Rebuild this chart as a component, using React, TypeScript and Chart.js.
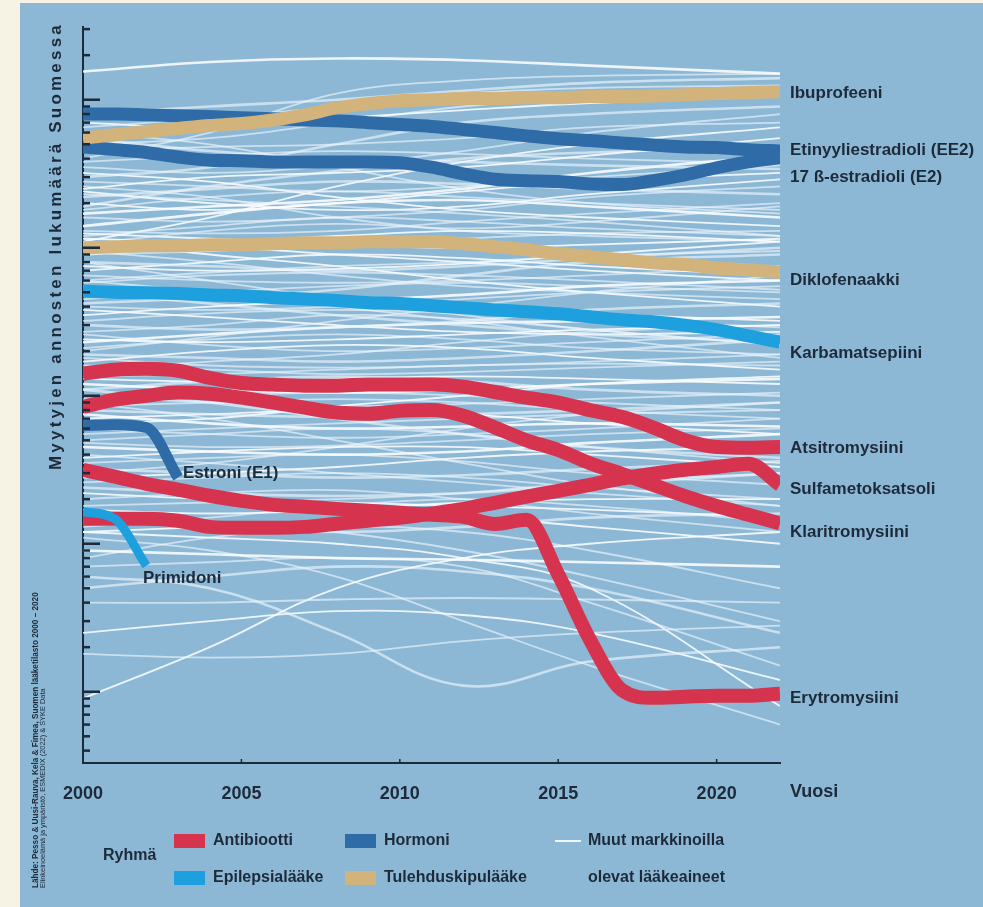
import React, { useEffect, useRef } from 'react';
import { Chart, registerables } from 'chart.js';

Chart.register(...registerables);

const W = 983;
const H = 907;
const CREAM = '#f6f2e4';
const PANEL = '#8db8d5';
const DARK = '#1c2a39';
const RED = '#d6344e';
const HORMONE = '#2f6ca7';
const EPI = '#1da0dd';
const TAN = '#d3b37c';
const SANS = '"Liberation Sans", Arial, sans-serif';

const YEARS = [2000, 2001, 2002, 2003, 2004, 2005, 2006, 2007, 2008, 2009, 2010, 2011, 2012, 2013, 2014, 2015, 2016, 2017, 2018, 2019, 2020, 2021, 2022];
const X_TICKS = [2000, 2005, 2010, 2015, 2020];
const Y_MIN = 330;
const Y_MAX = 3.1e7;

// Sold doses per year (log scale)
const IBUPROFEENI = [5.5e6, 5.8e6, 6.1e6, 6.4e6, 6.7e6, 6.9e6, 7.3e6, 7.9e6, 8.8e6, 9.4e6, 9.85e6, 1.0e7, 1.02e7, 1.02e7, 1.03e7, 1.03e7, 1.05e7, 1.05e7, 1.06e7, 1.08e7, 1.1e7, 1.12e7, 1.13e7];
const ETINYYLIESTRADIOLI = [8.0e6, 8.0e6, 7.9e6, 7.8e6, 7.7e6, 7.55e6, 7.45e6, 7.3e6, 7.2e6, 7.0e6, 6.8e6, 6.6e6, 6.3e6, 6.0e6, 5.7e6, 5.45e6, 5.3e6, 5.1e6, 4.95e6, 4.8e6, 4.75e6, 4.6e6, 4.5e6];
const ESTRADIOLI = [4.8e6, 4.6e6, 4.4e6, 4.1e6, 3.9e6, 3.87e6, 3.8e6, 3.8e6, 3.8e6, 3.8e6, 3.75e6, 3.5e6, 3.16e6, 2.9e6, 2.84e6, 2.8e6, 2.7e6, 2.67e6, 2.84e6, 3.1e6, 3.47e6, 3.8e6, 4.06e6];
const DIKLOFENAAKKI = [1.0e6, 1.016e6, 1.03e6, 1.03e6, 1.048e6, 1.048e6, 1.064e6, 1.081e6, 1.081e6, 1.098e6, 1.098e6, 1.098e6, 1.064e6, 1.016e6, 9.7e5, 9.1e5, 8.7e5, 8.3e5, 7.9e5, 7.7e5, 7.3e5, 7.1e5, 6.8e5];
const KARBAMATSEPIINI = [5.1e5, 5.0e5, 4.97e5, 4.9e5, 4.8e5, 4.74e5, 4.6e5, 4.5e5, 4.4e5, 4.25e5, 4.2e5, 4.06e5, 3.93e5, 3.8e5, 3.7e5, 3.58e5, 3.42e5, 3.26e5, 3.16e5, 3.0e5, 2.8e5, 2.54e5, 2.3e5];
const ATSITROMYSIINI = [1.41e5, 1.5e5, 1.52e5, 1.475e5, 1.32e5, 1.22e5, 1.19e5, 1.17e5, 1.17e5, 1.19e5, 1.19e5, 1.19e5, 1.15e5, 1.06e5, 9.7e4, 9.0e4, 8.0e4, 7.2e4, 6.1e4, 5.0e4, 4.5e4, 4.45e4, 4.5e4];
const KLARITROMYSIINI = [8.4e4, 9.4e4, 1.0e5, 1.05e5, 1.03e5, 9.7e4, 9.0e4, 8.3e4, 7.7e4, 7.56e4, 7.9e4, 8.0e4, 7.33e4, 6.1e4, 5.0e4, 4.3e4, 3.5e4, 2.97e4, 2.5e4, 2.1e4, 1.8e4, 1.57e4, 1.37e4];
const SULFAMETOKSATSOLI = [1.475e4, 1.475e4, 1.475e4, 1.43e4, 1.3e4, 1.28e4, 1.28e4, 1.3e4, 1.365e4, 1.43e4, 1.5e4, 1.6e4, 1.72e4, 1.89e4, 2.08e4, 2.28e4, 2.5e4, 2.75e4, 2.97e4, 3.16e4, 3.3e4, 3.47e4, 2.5e4];
const ERYTROMYSIINI = [3.16e4, 2.84e4, 2.54e4, 2.32e4, 2.11e4, 1.95e4, 1.83e4, 1.78e4, 1.72e4, 1.67e4, 1.62e4, 1.57e4, 1.52e4, 1.36e4, 1.45e4, 6.2e3, 2.25e3, 1.03e3, 9.1e2, 9.25e2, 9.4e2, 9.4e2, 9.7e2];
const ESTRONI_YEARS = [2000, 2001, 2002, 2003];
const ESTRONI = [6.27e4, 6.37e4, 6.1e4, 2.8e4];
const PRIMIDONI_YEARS = [2000, 2001, 2002];
const PRIMIDONI = [1.645e4, 1.475e4, 7.1e3];

// Other marketed substances
const WHITE_YEARS = [2000, 2004, 2008, 2012, 2016, 2022];
const WHITE_LINES: (number | null)[][] = [
  [1.55e7, 1.8e7, 1.9e7, 1.85e7, 1.7e7, 1.5e7],
  [4e6, 6e6, 1.1e7, 1.35e7, 1.45e7, 1.5e7],
  [6.5e6, 7.5e6, 9e6, 1.1e7, 1.2e7, 1.25e7],
  [7e6, 6.5e6, 7.5e6, 8.5e6, 9.5e6, 1.05e7],
  [3e6, 3.5e6, 5e6, 7e6, 8e6, 9e6],
  [3.5e6, 3.2e6, 3.6e6, 4.5e6, 6e6, 8e6],
  [2.5e6, 3e6, 3.2e6, 3.5e6, 4.2e6, 5.5e6],
  [2.8e6, 2.6e6, 2.4e6, 2.6e6, 3e6, 3.6e6],
  [2.2e6, 2.5e6, 2.8e6, 2.7e6, 2.5e6, 2.3e6],
  [2e6, 1.8e6, 2e6, 2.4e6, 2.8e6, 3.2e6],
  [1.8e6, 2.2e6, 2.4e6, 2.2e6, 2e6, 1.8e6],
  [1.6e6, 1.5e6, 1.6e6, 1.8e6, 2.2e6, 2.6e6],
  [1.4e6, 1.7e6, 2e6, 2.1e6, 1.9e6, 1.6e6],
  [1.3e6, 1.25e6, 1.3e6, 1.5e6, 1.7e6, 2e6],
  [1.2e6, 1.4e6, 1.6e6, 1.5e6, 1.35e6, 1.2e6],
  [3.2e6, 2.8e6, 2.2e6, 1.8e6, 1.6e6, 1.4e6],
  [5.5e6, 4.5e6, 4e6, 3.8e6, 3.6e6, 3.4e6],
  [2.3e6, 2.1e6, 1.9e6, 1.7e6, 1.5e6, 1.2e6],
  [1.15e6, 1.1e6, 1.2e6, 1.3e6, 1.25e6, 1.1e6],
  [4.5e6, 4.8e6, 5e6, 5.5e6, 6.5e6, 7e6],
  [1.9e6, 2.6e6, 3.3e6, 4e6, 4.4e6, 4.8e6],
  [1.1e6, 1.6e6, 2.6e6, 3.8e6, 5e6, 6.5e6],
  [6e6, 5e6, 3.5e6, 2.5e6, 2e6, 1.7e6],
  [2.6e6, 2.2e6, 1.6e6, 1.3e6, 1.2e6, 1.1e6],
  [1.7e6, 1.9e6, 2.1e6, 2.5e6, 3.2e6, 4.2e6],
  [3.8e6, 4.2e6, 4.5e6, 4.3e6, 4e6, 3.7e6],
  [1.05e6, 1.3e6, 1.45e6, 1.35e6, 1.5e6, 1.9e6],
  [2.4e6, 2e6, 1.8e6, 1.9e6, 2.3e6, 2.9e6],
  [8e6, 9e6, 1e7, 1.15e7, 1.3e7, 1.4e7],
  [5e6, 5.5e6, 7e6, 9e6, 1.05e7, 1.15e7],
  [1.25e6, 1.15e6, 1.05e6, 1e6, 1.05e6, 1.15e6],
  [9e5, 9.5e5, 1.05e6, 1.15e6, 1.25e6, 1.3e6],
  [8e5, 7.5e5, 7e5, 7.5e5, 8.5e5, 1e6],
  [7e5, 8e5, 9e5, 8.5e5, 7.5e5, 6.5e5],
  [6.5e5, 6e5, 5.8e5, 6e5, 6.5e5, 7.5e5],
  [6e5, 6.8e5, 7.5e5, 8e5, 8.8e5, 9.5e5],
  [5.5e5, 5e5, 4.5e5, 4.8e5, 5.5e5, 6e5],
  [4.5e5, 5e5, 5.5e5, 5.8e5, 5.5e5, 5e5],
  [4e5, 3.8e5, 4e5, 4.5e5, 5e5, 5.5e5],
  [3.5e5, 4e5, 4.3e5, 4e5, 3.6e5, 3.2e5],
  [3e5, 2.8e5, 2.9e5, 3.2e5, 3.8e5, 4.2e5],
  [2.7e5, 3e5, 3.5e5, 3.3e5, 2.8e5, 2.2e5],
  [2.4e5, 2.3e5, 2.4e5, 2.6e5, 2.8e5, 3e5],
  [2.1e5, 2.4e5, 2.6e5, 2.4e5, 2.1e5, 1.9e5],
  [1.9e5, 1.8e5, 1.7e5, 1.8e5, 2e5, 2.4e5],
  [1.7e5, 2e5, 2.2e5, 2.1e5, 1.8e5, 1.5e5],
  [1.6e5, 1.5e5, 1.4e5, 1.45e5, 1.55e5, 1.7e5],
  [1.35e5, 1.4e5, 1.5e5, 1.6e5, 1.65e5, 1.6e5],
  [1.2e5, 1.1e5, 1.05e5, 1.1e5, 1.2e5, 1.3e5],
  [8e5, 6e5, 4.5e5, 3.5e5, 2.8e5, 2.2e5],
  [2e5, 2.5e5, 3.2e5, 4e5, 5e5, 6.5e5],
  [1.1e6, 9e5, 7.5e5, 6e5, 5e5, 4e5],
  [5e5, 4.2e5, 3.5e5, 3e5, 2.6e5, 2.3e5],
  [9.5e5, 8e5, 6.5e5, 5.5e5, 5e5, 4.5e5],
  [7.5e5, 7e5, 7.2e5, 7.8e5, 9e5, 1.1e6],
  [5.8e5, 6.5e5, 6.8e5, 6.5e5, 6e5, 5.2e5],
  [4.2e5, 4.6e5, 5.2e5, 6.5e5, 8e5, 9e5],
  [3.8e5, 3.4e5, 3e5, 2.7e5, 2.6e5, 2.7e5],
  [3.2e5, 3.6e5, 3.8e5, 3.6e5, 3.3e5, 2.9e5],
  [2.6e5, 2.2e5, 2e5, 2.1e5, 2.3e5, 2.6e5],
  [2.3e5, 2.6e5, 2.9e5, 3.1e5, 3.2e5, 3.4e5],
  [1.8e5, 1.6e5, 1.55e5, 1.6e5, 1.7e5, 1.9e5],
  [1.5e5, 1.7e5, 1.9e5, 2.3e5, 2.7e5, 3e5],
  [1.3e5, 1.25e5, 1.3e5, 1.35e5, 1.3e5, 1.2e5],
  [1.1e5, 1.25e5, 1.35e5, 1.25e5, 1.1e5, 1e5],
  [6e5, 5e5, 4e5, 3.2e5, 2.5e5, 1.8e5],
  [9e5, 1e6, 9e5, 8e5, 7e5, 6e5],
  [9.5e4, 1e5, 1.05e5, 1e5, 9e4, 8e4],
  [8e4, 7.5e4, 7.2e4, 7.5e4, 8e4, 9e4],
  [7e4, 7.5e4, 8e4, 7.5e4, 6.5e4, 5.5e4],
  [6e4, 5.5e4, 5.2e4, 5.5e4, 6e4, 7e4],
  [5e4, 5.5e4, 6e4, 5.5e4, 4.5e4, 3.5e4],
  [4.5e4, 4.2e4, 4e4, 4.2e4, 4.8e4, 5.5e4],
  [4e4, 3.5e4, 3e4, 2.6e4, 2.2e4, 1.8e4],
  [3.5e4, 3.8e4, 4e4, 3.6e4, 3e4, 2.5e4],
  [2.8e4, 3e4, 3.3e4, 3.8e4, 4.2e4, 4.5e4],
  [2.4e4, 2.2e4, 2.1e4, 2.2e4, 2.5e4, 3e4],
  [2e4, 2.2e4, 2.3e4, 2e4, 1.6e4, 1.2e4],
  [1.7e4, 1.6e4, 1.7e4, 1.9e4, 2e4, 2e4],
  [1.3e4, 1.5e4, 1.8e4, 2e4, 1.8e4, 1.4e4],
  [1.1e5, 9e4, 7e4, 5.5e4, 4.5e4, 3.8e4],
  [6.5e4, 7e4, 8.5e4, 1e5, 1.2e5, 1.35e5],
  [1e5, 9e4, 8.5e4, 8.8e4, 9.5e4, 1.05e5],
  [8.5e4, 9e4, 9.5e4, 9e4, 8e4, 7e4],
  [7.5e4, 6.5e4, 6e4, 6.2e4, 6.5e4, 6.2e4],
  [5.5e4, 6e4, 6.5e4, 7e4, 7.5e4, 8e4],
  [4.8e4, 4.5e4, 4.6e4, 5e4, 5.5e4, 6e4],
  [3.8e4, 4.2e4, 4.5e4, 4.5e4, 4e4, 3.3e4],
  [3.2e4, 3e4, 2.8e4, 2.9e4, 3.2e4, 3.6e4],
  [2.6e4, 2.8e4, 3e4, 2.8e4, 2.4e4, 2e4],
  [2.2e4, 2e4, 1.9e4, 1.8e4, 1.7e4, 1.5e4],
  [1.8e4, 1.9e4, 2e4, 2.2e4, 2.6e4, 3e4],
  [1.5e4, 1.3e4, 1.2e4, 1.3e4, 1.5e4, 1.6e4],
  [1.2e4, 1.3e4, 1.4e4, 1.5e4, 1.3e4, 1e4],
  [9e4, 7e4, 5e4, 3.5e4, 2.5e4, 1.8e4],
  [3e4, 3.5e4, 4.5e4, 6e4, 7.5e4, 9e4],
  [9e3, 8.5e3, 8e3, 7.8e3, 7.5e3, 7e3],
  [4e3, 4e3, 4.2e3, 4.3e3, 4.2e3, 4e3],
  [1.8e3, 1.7e3, 1.8e3, 2.2e3, 2.5e3, 2.8e3],
  [9e2, 2e3, 5e3, 8e3, 1e4, 1.2e4],
  [6e3, 5e3, 2.5e3, 1.1e3, 1.6e3, 2e3],
  [7e3, 7.5e3, 8e3, 7e3, 4e3, 1.5e3],
  [1.2e4, 1.1e4, 1e4, 8e3, 5e3, 8e2],
  [1.5e4, 1.4e4, 1.2e4, 9e3, 6e3, 3e3],
  [5e3, 6e3, 7e3, 6.5e3, 5e3, 2.5e3],
  [2.5e3, 3e3, 3.5e3, 3.3e3, 2.5e3, 1.2e3],
  [1.1e4, 9e3, 6e3, 3e3, 1.5e3, 6e2],
  [8e3, 1.1e4, 1.3e4, 1.2e4, 9e3, 5e3],
];

const RIGHT_LABELS = ['Ibuprofeeni', 'Etinyyliestradioli (EE2)', '17 ß-estradioli (E2)', 'Diklofenaakki', 'Karbamatsepiini', 'Atsitromysiini', 'Sulfametoksatsoli', 'Klaritromysiini', 'Erytromysiini'];
const RIGHT_LABEL_Y = [93, 150, 177, 280, 353, 448, 489, 532, 698];

const pts = (xs: number[], vs: (number | null)[]) => xs.map((x, i) => ({ x, y: vs[i] }));

function buildDatasets() {
  const thick = (data: any[], color: string, width: number) => ({
    data,
    borderColor: color,
    borderWidth: width,
    pointRadius: 0,
    fill: false,
    cubicInterpolationMode: 'monotone' as const,
    borderCapStyle: 'butt' as const,
    borderJoinStyle: 'round' as const,
  });
  const colored = [
    thick(pts(PRIMIDONI_YEARS, PRIMIDONI), EPI, 9),
    thick(pts(ESTRONI_YEARS, ESTRONI), HORMONE, 11),
    thick(pts(YEARS, ERYTROMYSIINI), RED, 14),
    thick(pts(YEARS, SULFAMETOKSATSOLI), RED, 14),
    thick(pts(YEARS, KLARITROMYSIINI), RED, 14),
    thick(pts(YEARS, ATSITROMYSIINI), RED, 14),
    thick(pts(YEARS, KARBAMATSEPIINI), EPI, 13),
    thick(pts(YEARS, DIKLOFENAAKKI), TAN, 13),
    thick(pts(YEARS, IBUPROFEENI), TAN, 13),
    thick(pts(YEARS, ESTRADIOLI), HORMONE, 13),
    thick(pts(YEARS, ETINYYLIESTRADIOLI), HORMONE, 13),
  ];
  const whites = WHITE_LINES.map((vals, i) => ({
    data: pts(WHITE_YEARS, vals),
    borderColor: i % 3 === 0 ? 'rgba(250,253,255,0.88)' : 'rgba(236,245,252,0.66)',
    borderWidth: i % 4 === 0 ? 2.6 : 1.8,
    pointRadius: 0,
    fill: false,
    tension: 0.4,
  }));
  return [...colored, ...whites];
}

function fitFont(ctx: CanvasRenderingContext2D, text: string, weight: string, target: number) {
  ctx.font = `${weight} 10px ${SANS}`;
  const w = ctx.measureText(text).width;
  return (10 * target) / w;
}

const decor = {
  id: 'decor',
  beforeDraw(chart: any) {
    const { ctx, width, height } = chart;
    ctx.save();
    ctx.fillStyle = CREAM;
    ctx.fillRect(0, 0, width, height);
    ctx.fillStyle = PANEL;
    ctx.fillRect(20, 3, width - 20, height - 3);
    ctx.restore();
  },
  afterDraw(chart: any) {
    const { ctx, chartArea } = chart;
    const xs = chart.scales.x;
    const ys = chart.scales.y;
    ctx.save();
    // y ticks (log)
    ctx.strokeStyle = DARK;
    ctx.lineWidth = 2.5;
    for (let e = 2; e <= 7; e++) {
      for (let m = 1; m <= 9; m++) {
        const v = m * Math.pow(10, e);
        if (v < Y_MIN || v > Y_MAX) continue;
        const py = ys.getPixelForValue(v);
        const len = m === 1 ? 17 : 7;
        ctx.beginPath();
        ctx.moveTo(chartArea.left, py);
        ctx.lineTo(chartArea.left + len, py);
        ctx.stroke();
      }
    }
    // x small ticks
    ctx.lineWidth = 1.5;
    for (const t of X_TICKS) {
      if (t === 2000) continue;
      const px = xs.getPixelForValue(t);
      ctx.beginPath();
      ctx.moveTo(px, chartArea.bottom);
      ctx.lineTo(px, chartArea.bottom - 4);
      ctx.stroke();
    }

    ctx.fillStyle = DARK;
    ctx.textBaseline = 'middle';
    // y axis title
    const title = 'Myytyjen annosten lukumäärä Suomessa';
    ctx.save();
    ctx.font = `bold 17px ${SANS}`;
    const tw = ctx.measureText(title).width;
    const spacing = Math.max(0, (448 - tw) / title.length);
    (ctx as any).letterSpacing = `${spacing}px`;
    ctx.translate(56, 22);
    ctx.rotate(-Math.PI / 2);
    ctx.textAlign = 'right';
    ctx.fillText(title, 0, 0);
    ctx.restore();

    // source text
    const src1 = 'Lähde: Pesso & Uusi-Rauva, Kela & Fimea, Suomen lääketilasto 2000 – 2020';
    const src2 = 'Elinkeinoelämä ja ympäristö, ESMEDIX (2022) & SYKE Data';
    ctx.save();
    ctx.translate(36, 888);
    ctx.rotate(-Math.PI / 2);
    ctx.textAlign = 'left';
    const f1 = fitFont(ctx, src1, 'bold', 296);
    ctx.font = `bold ${f1}px ${SANS}`;
    ctx.fillText(src1, 0, 0);
    const f2 = fitFont(ctx, src2, 'normal', 200);
    ctx.font = `${f2}px ${SANS}`;
    ctx.fillText(src2, 0, 7);
    ctx.restore();

    // right labels
    ctx.font = `bold 17px ${SANS}`;
    ctx.textAlign = 'left';
    RIGHT_LABELS.forEach((t, i) => ctx.fillText(t, 790, RIGHT_LABEL_Y[i]));
    ctx.fillText('Estroni (E1)', 183, 473);
    ctx.fillText('Primidoni', 143, 578);
    ctx.font = `bold 18px ${SANS}`;
    ctx.fillText('Vuosi', 790, 792);

    // legend
    ctx.font = `bold 16px ${SANS}`;
    ctx.fillText('Ryhmä', 103, 856);
    const sw = [
      [174, 834, RED, 'Antibiootti'],
      [174, 871, EPI, 'Epilepsialääke'],
      [345, 834, HORMONE, 'Hormoni'],
      [345, 871, TAN, 'Tulehduskipulääke'],
    ] as const;
    for (const [sx, sy, c, label] of sw) {
      ctx.fillStyle = c;
      ctx.fillRect(sx, sy, 31, 14);
      ctx.fillStyle = DARK;
      ctx.fillText(label, sx + 39, sy + 7);
    }
    ctx.strokeStyle = 'rgba(248,252,255,0.9)';
    ctx.lineWidth = 2;
    ctx.beginPath();
    ctx.moveTo(555, 841);
    ctx.lineTo(581, 841);
    ctx.stroke();
    ctx.fillText('Muut markkinoilla', 588, 841);
    ctx.fillText('olevat lääkeaineet', 588, 878);
    ctx.restore();
  },
};

export default function App() {
  const ref = useRef<HTMLCanvasElement>(null);
  useEffect(() => {
    const canvas = ref.current;
    if (!canvas) return;
    const chart = new Chart(canvas, {
      type: 'line',
      data: { datasets: buildDatasets() as any },
      options: {
        animation: false,
        responsive: false,
        events: [],
        layout: { padding: { left: 83, right: 203, top: 27, bottom: 0 } },
        plugins: { legend: { display: false }, tooltip: { enabled: false } },
        scales: {
          x: {
            type: 'linear',
            min: 2000,
            max: 2022,
            afterFit: (s: any) => { s.height = 144; },
            afterBuildTicks: (s: any) => { s.ticks = X_TICKS.map((v) => ({ value: v })); },
            grid: { display: false },
            border: { display: true, color: DARK, width: 2 },
            ticks: {
              color: DARK,
              font: { family: SANS, size: 18, weight: 'bold' },
              padding: 12,
              maxRotation: 0,
              autoSkip: false,
              callback: (v: any) => String(v),
            },
          },
          y: {
            type: 'logarithmic',
            min: Y_MIN,
            max: Y_MAX,
            afterFit: (s: any) => { s.width = 0; },
            grid: { display: false },
            border: { display: true, color: DARK, width: 2 },
            ticks: { display: false },
          },
        },
      },
      plugins: [decor],
    });
    return () => chart.destroy();
  }, []);
  return (
    <div style={{ position: 'fixed', left: 0, top: 0, width: W, height: H, background: CREAM }}>
      <canvas ref={ref} width={W} height={H} style={{ display: 'block', width: W, height: H }} />
    </div>
  );
}
